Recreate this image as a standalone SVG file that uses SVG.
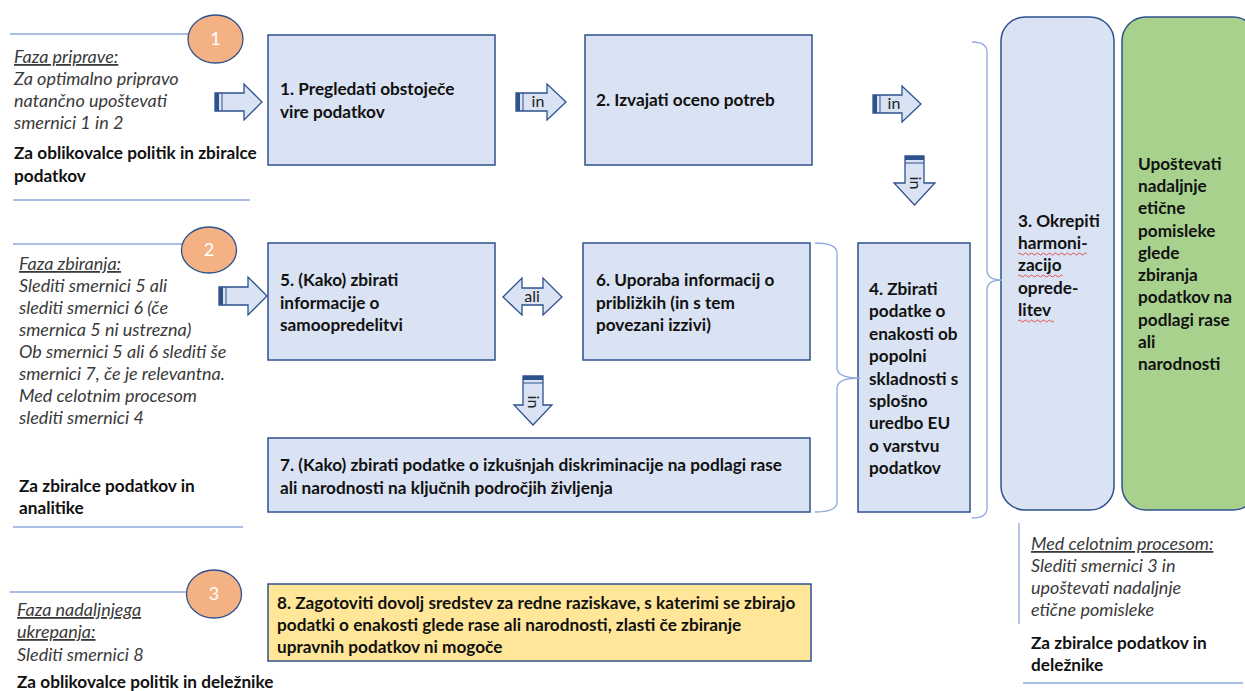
<svg xmlns="http://www.w3.org/2000/svg" width="1245" height="691" viewBox="0 0 1245 691">
<defs>
<style>
.box{fill:#dae3f3;stroke:#2f528f;stroke-width:1.5}
.green{fill:#a9d18e;stroke:#2f528f;stroke-width:1.5}
.yellow{fill:#ffe699;stroke:#2f528f;stroke-width:1.5}
.circ{fill:#f4b183;stroke:#2f528f;stroke-width:1.3}
.ctext{font-family:Lato,"Liberation Sans",sans-serif;font-size:18px;fill:#fff;text-anchor:middle}
.sep{stroke:#8faadc;stroke-width:1.3;fill:none}
.brace{stroke:#8faadc;stroke-width:1.3;fill:none}
.arr{fill:#dae3f3;stroke:#2f528f;stroke-width:1.3;stroke-linejoin:miter}
.bar{fill:#2f528f}
.thin{stroke:#2f528f;stroke-width:1}
.b{font-family:Lato,"Liberation Sans",sans-serif;font-weight:bold;font-size:17.2px;fill:#111}
.i{font-family:Lato,"Liberation Sans",sans-serif;font-style:italic;font-size:18px;fill:#3a3a3a}
.u{text-decoration:underline}
.al{font-family:Lato,"Liberation Sans",sans-serif;font-size:16px;fill:#222;text-anchor:middle}
.wavy{stroke:#e03030;stroke-width:0.8;fill:none}
</style>
</defs>

<!-- separators -->
<g id="separators">
<line class="sep" x1="10" y1="34" x2="189" y2="34"/>
<line class="sep" x1="13" y1="200" x2="250" y2="200"/>
<line class="sep" x1="13" y1="244" x2="183" y2="244"/>
<line class="sep" x1="13" y1="527" x2="243" y2="527"/>
<line class="sep" x1="10" y1="592" x2="188" y2="592"/>
<line class="sep" x1="1019" y1="523" x2="1019" y2="624"/>
<line class="sep" x1="1023" y1="683" x2="1243" y2="683"/>
</g>

<!-- phase circles -->
<g id="circle1"><ellipse class="circ" cx="215.5" cy="39" rx="27.5" ry="24"/><text class="ctext" x="215.5" y="45">1</text></g>
<g id="circle2"><ellipse class="circ" cx="209" cy="250" rx="27.5" ry="23"/><text class="ctext" x="209" y="256">2</text></g>
<g id="circle3"><ellipse class="circ" cx="214" cy="594" rx="27.5" ry="24"/><text class="ctext" x="214" y="600">3</text></g>

<!-- left texts -->
<g id="phase1-text">
<text class="i" x="14" y="63"><tspan class="u">Faza priprave:</tspan></text>
<text class="i" x="14" y="85">Za optimalno pripravo</text>
<text class="i" x="14" y="107">natančno upoštevati</text>
<text class="i" x="14" y="129">smernici 1 in 2</text>
<text class="b" x="14" y="159">Za oblikovalce politik in zbiralce</text>
<text class="b" x="14" y="182">podatkov</text>
</g>
<g id="phase2-text">
<text class="i" x="19" y="270"><tspan class="u">Faza zbiranja:</tspan></text>
<text class="i" x="19" y="292">Slediti smernici 5 ali</text>
<text class="i" x="19" y="314">slediti smernici 6 (če</text>
<text class="i" x="19" y="336">smernica 5 ni ustrezna)</text>
<text class="i" x="19" y="358">Ob smernici 5 ali 6 slediti še</text>
<text class="i" x="19" y="380">smernici 7, če je relevantna.</text>
<text class="i" x="19" y="402">Med celotnim procesom</text>
<text class="i" x="19" y="424">slediti smernici 4</text>
<text class="b" x="19" y="492">Za zbiralce podatkov in</text>
<text class="b" x="19" y="514">analitike</text>
</g>
<g id="phase3-text">
<text class="i" x="17" y="616"><tspan class="u">Faza nadaljnjega</tspan></text>
<text class="i" x="17" y="638"><tspan class="u">ukrepanja:</tspan></text>
<text class="i" x="17" y="661">Slediti smernici 8</text>
<text class="b" x="17" y="688">Za oblikovalce politik in deležnike</text>
</g>
<g id="overall-text">
<text class="i" x="1031" y="550"><tspan class="u">Med celotnim procesom:</tspan></text>
<text class="i" x="1031" y="572">Slediti smernici 3 in</text>
<text class="i" x="1031" y="594">upoštevati nadaljnje</text>
<text class="i" x="1031" y="616">etične pomisleke</text>
<text class="b" x="1031" y="649">Za zbiralce podatkov in</text>
<text class="b" x="1031" y="671">deležnike</text>
</g>

<!-- nodes -->
<g id="node1"><rect class="box" x="268" y="35" width="227" height="130"/>
<text class="b" x="280" y="95">1. Pregledati obstoječe</text>
<text class="b" x="280" y="118">vire podatkov</text></g>
<g id="node2"><rect class="box" x="585" y="35" width="227" height="130"/>
<text class="b" x="596" y="106">2. Izvajati oceno potreb</text></g>
<g id="node5"><rect class="box" x="268" y="243" width="227" height="117"/>
<text class="b" x="280" y="286">5. (Kako) zbirati</text>
<text class="b" x="280" y="309">informacije o</text>
<text class="b" x="280" y="331">samoopredelitvi</text></g>
<g id="node6"><rect class="box" x="583" y="243" width="227" height="117"/>
<text class="b" x="596" y="286">6. Uporaba informacij o</text>
<text class="b" x="596" y="309">približkih (in s tem</text>
<text class="b" x="596" y="331">povezani izzivi)</text></g>
<g id="node7"><rect class="box" x="268" y="438" width="542" height="74"/>
<text class="b" x="280" y="471">7. (Kako) zbirati podatke o izkušnjah diskriminacije na podlagi rase</text>
<text class="b" x="280" y="494">ali narodnosti na ključnih področjih življenja</text></g>
<g id="node4"><rect class="box" x="858" y="243" width="112" height="269"/>
<text class="b" x="869" y="295">4. Zbirati</text>
<text class="b" x="869" y="317">podatke o</text>
<text class="b" x="869" y="340">enakosti ob</text>
<text class="b" x="869" y="362">popolni</text>
<text class="b" x="869" y="385">skladnosti s</text>
<text class="b" x="869" y="407">splošno</text>
<text class="b" x="869" y="429">uredbo EU</text>
<text class="b" x="869" y="452">o varstvu</text>
<text class="b" x="869" y="474">podatkov</text></g>
<g id="node3"><rect class="box" x="1001" y="17" width="113" height="493" rx="24" ry="24"/>
<text class="b" x="1018" y="227">3. Okrepiti</text>
<text class="b" x="1018" y="249">harmoni-</text>
<text class="b" x="1018" y="271">zacijo</text>
<text class="b" x="1018" y="294">oprede-</text>
<text class="b" x="1018" y="316">litev</text>
<path class="wavy" d="M1018 254 q1.5 -2 3 0 t3 0 t3 0 t3 0 t3 0 t3 0 t3 0 t3 0 t3 0 t3 0 t3 0 t3 0 t3 0 t3 0 t3 0 t3 0 t3 0 t3 0 t3 0 t3 0 t3 0 t3 0 t3 0"/>
<path class="wavy" d="M1018 276 q1.5 -2 3 0 t3 0 t3 0 t3 0 t3 0 t3 0 t3 0 t3 0 t3 0 t3 0 t3 0 t3 0 t3 0 t3 0 t3 0"/>
<path class="wavy" d="M1018 321 q1.5 -2 3 0 t3 0 t3 0 t3 0 t3 0 t3 0 t3 0 t3 0 t3 0 t3 0 t3 0 t3 0"/></g>
<g id="node-ethics"><rect class="green" x="1122" y="17" width="135" height="493" rx="24" ry="24"/>
<text class="b" x="1138" y="170">Upoštevati</text>
<text class="b" x="1138" y="192">nadaljnje</text>
<text class="b" x="1138" y="214">etične</text>
<text class="b" x="1138" y="237">pomisleke</text>
<text class="b" x="1138" y="259">glede</text>
<text class="b" x="1138" y="281">zbiranja</text>
<text class="b" x="1138" y="303">podatkov na</text>
<text class="b" x="1138" y="326">podlagi rase</text>
<text class="b" x="1138" y="348">ali</text>
<text class="b" x="1138" y="370">narodnosti</text></g>
<g id="node8"><rect class="yellow" x="268" y="584" width="543" height="77"/>
<text class="b" x="277" y="609">8. Zagotoviti dovolj sredstev za redne raziskave, s katerimi se zbirajo</text>
<text class="b" x="277" y="631">podatki o enakosti glede rase ali narodnosti, zlasti če zbiranje</text>
<text class="b" x="277" y="653">upravnih podatkov ni mogoče</text></g>

<!-- connectors -->
<g id="connectors">
<path class="arr" d="M215 93 H244 V84 L262 102 L244 120 V111 H215 Z"/>
<rect class="bar" x="215" y="93" width="4" height="18"/>
<line class="thin" x1="222" y1="93" x2="222" y2="111"/>
<path class="arr" d="M516 93 H547 V84 L566 102 L547 120 V111 H516 Z"/>
<rect class="bar" x="516" y="93" width="4" height="18"/>
<line class="thin" x1="523" y1="93" x2="523" y2="111"/>
<text class="al" x="538" y="107">in</text>
<path class="arr" d="M873 95 H902 V86 L921 104 L902 122 V113 H873 Z"/>
<rect class="bar" x="873" y="95" width="4" height="18"/>
<line class="thin" x1="880" y1="95" x2="880" y2="113"/>
<text class="al" x="894" y="109">in</text>
<path class="arr" d="M905 156 H924 V183 H935 L914.5 205 L894 183 H905 Z"/>
<rect class="bar" x="905" y="156" width="19" height="4"/>
<line class="thin" x1="905" y1="163" x2="924" y2="163"/>
<text class="al" transform="translate(910 183) rotate(90)" x="0" y="0">in</text>
<path class="arr" d="M219 287 H248 V277 L267 296 L248 315 V305 H219 Z"/>
<rect class="bar" x="219" y="287" width="4" height="18"/>
<line class="thin" x1="226" y1="287" x2="226" y2="305"/>
<path class="arr" d="M503 297 L522 278 V288 H543 V278 L562 297 L543 315 V305 H522 V315 Z"/>
<text class="al" x="532" y="302">ali</text>
<path class="arr" d="M523 376 H543 V405 H552 L533 425 L514 405 H523 Z"/>
<rect class="bar" x="523" y="376" width="20" height="4"/>
<line class="thin" x1="523" y1="383" x2="543" y2="383"/>
<text class="al" transform="translate(528 402) rotate(90)" x="0" y="0">in</text>
<path class="brace" d="M972 42 Q987 42 987 52 V270 Q987 280 1002 280 Q987 280 987 290 V508 Q987 518 972 518"/>
<path class="brace" d="M815 243 Q837 243 837 253 V368 Q837 378 860 378 Q837 378 837 388 V502 Q837 512 815 512"/>
</g>
</svg>
